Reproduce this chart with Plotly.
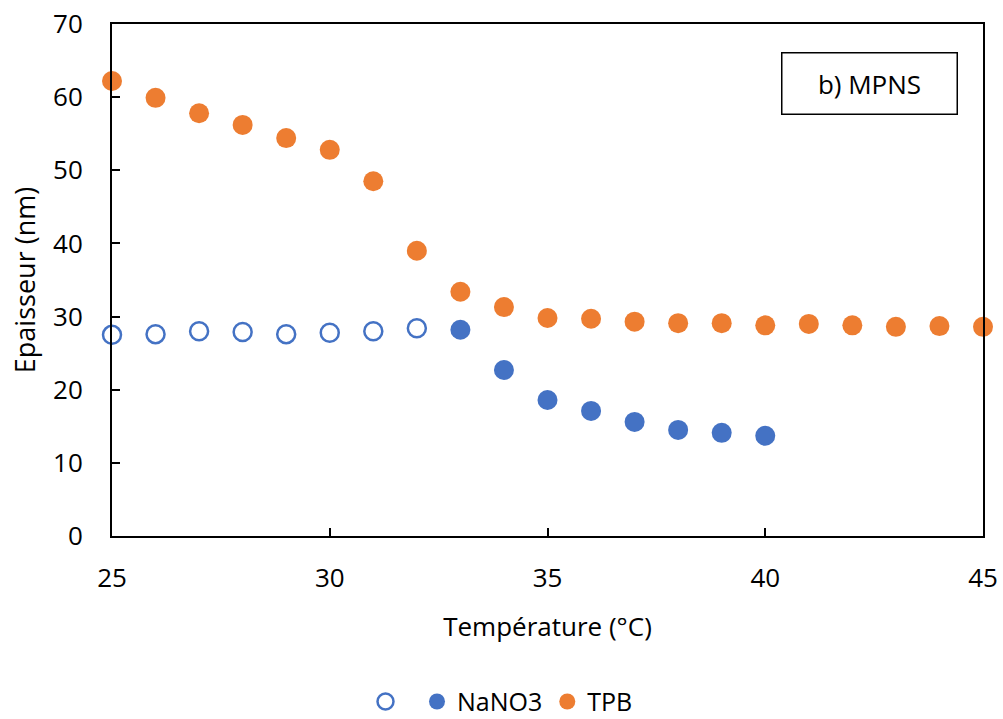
import plotly.graph_objects as go

temp_open = [25, 26, 27, 28, 29, 30, 31, 32]
nano3_open = [27.5, 27.6, 28.0, 27.9, 27.6, 27.8, 28.0, 28.4]
temp_nano3 = [33, 34, 35, 36, 37, 38, 39, 40]
nano3 = [28.2, 22.7, 18.6, 17.1, 15.6, 14.5, 14.1, 13.7]
temp_tpb = list(range(25, 46))
tpb = [62.2, 59.9, 57.8, 56.2, 54.4, 52.8, 48.5, 39.0, 33.4, 31.3, 29.8, 29.7,
       29.3, 29.1, 29.1, 28.8, 29.0, 28.8, 28.6, 28.7, 28.6]

BLUE = "#4472C4"
ORANGE = "#ED7D31"
FONT = "Open Sans"
FS = 26

fig = go.Figure()
fig.add_trace(go.Scatter(x=temp_open, y=nano3_open, mode="markers", name=" ",
                         marker=dict(symbol="circle-open", size=18, color=BLUE,
                                     line=dict(width=2.5, color=BLUE)),
                         cliponaxis=False))
fig.add_trace(go.Scatter(x=temp_nano3, y=nano3, mode="markers", name="NaNO3",
                         marker=dict(symbol="circle", size=20, color=BLUE),
                         cliponaxis=False))
fig.add_trace(go.Scatter(x=temp_tpb, y=tpb, mode="markers", name="TPB",
                         marker=dict(symbol="circle", size=20, color=ORANGE),
                         cliponaxis=False))

axis_common = dict(showline=True, linecolor="black", linewidth=2, mirror=True,
                   ticks="inside", ticklen=8, tickwidth=2, tickcolor="black",
                   showgrid=False, zeroline=False, automargin=False,
                   tickfont=dict(family=FONT, size=FS, color="black"))

fig.update_xaxes(range=[25, 45], dtick=5, tick0=25, ticklabelstandoff=18,
                 title=dict(text="Température (°C)", standoff=24,
                            font=dict(family=FONT, size=FS, color="black")),
                 **axis_common)
fig.update_yaxes(range=[0, 70], dtick=10, ticklabelstandoff=22,
                 title=dict(text="Epaisseur (nm)", standoff=10,
                            font=dict(family=FONT, size=FS + 1, color="black")),
                 **axis_common)

fig.add_annotation(xref="paper", yref="paper", x=0.870, y=0.883,
                   xanchor="center", yanchor="middle",
                   text="b) MPNS", showarrow=False,
                   font=dict(family=FONT, size=FS, color="black"),
                   bordercolor="black", borderwidth=1.5, width=172, height=58,
                   bgcolor="white")

fig.update_layout(
    width=1003, height=719,
    margin=dict(l=112, r=20, t=24, b=183, autoexpand=False),
    paper_bgcolor="white", plot_bgcolor="white",
    showlegend=True,
    legend=dict(orientation="h", xref="container", yref="container",
                x=0.5, xanchor="center", y=0.024, yanchor="middle",
                font=dict(family=FONT, size=FS - 1, color="black"),
                itemwidth=30, tracegroupgap=0),
)

fig.write_html("out.html", config={"displayModeBar": False},
               post_script="document.body.style.margin='0';document.body.style.overflow='hidden';")
